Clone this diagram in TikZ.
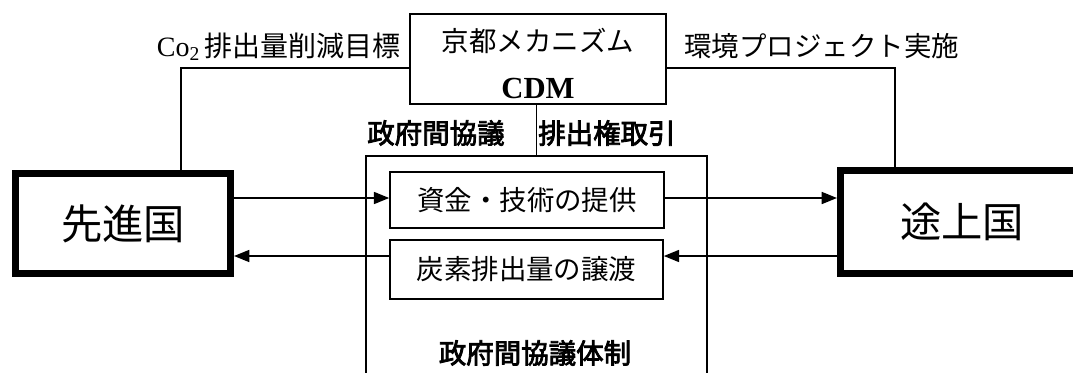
\documentclass[tikz,border=0pt]{standalone}
\usepackage{fontspec}
\setmainfont{Liberation Serif}
\newfontfamily\jp{Noto Sans CJK JP}
\newfontfamily\jpb[FakeBold=3]{Noto Sans CJK JP}
\usetikzlibrary{arrows.meta}
\tikzset{
  thinbox/.style={draw, line width=1.2pt, inner sep=0pt, fill=white},
  country/.style={draw, line width=5.25pt, inner sep=0pt, fill=white,
    font=\jp\fontsize{31pt}{36pt}\selectfont},
  lbl/.style={inner sep=0pt, font=\jp\fontsize{20.6pt}{24pt}\selectfont},
  blbl/.style={inner sep=0pt, font=\jpb\fontsize{20.6pt}{24pt}\selectfont},
  conn/.style={line width=1.3pt},
  arr/.style={line width=1.3pt, -{Triangle[length=11.5pt,width=9pt]}}
}
\begin{document}
\begin{tikzpicture}[x=0.75pt,y=-0.75pt]
\useasboundingbox (0,0) rectangle (1073,372);
\clip (0,0) rectangle (1073,372);
\fill[white] (0,0) rectangle (1073,372);

% helper coordinates
\coordinate (ya) at (0,198);
\coordinate (yb) at (0,256);
\coordinate (yc) at (0,68);
\coordinate (lx) at (181,0);
\coordinate (rx) at (895,0);

% outer framework box
\node[thinbox, minimum width=255.75pt, minimum height=198pt] (frame) at (536.5,288) {};
\node[blbl] (taisei) at (535,353) {政府間協議体制};

% inner boxes
\node[thinbox, minimum width=205.5pt, minimum height=42pt, lbl] (box1) at (527,200) {資金・技術の提供};
\node[thinbox, minimum width=204.75pt, minimum height=44.25pt, lbl] (box2) at (526.5,269.5) {炭素排出量の譲渡};

% countries
\node[country, minimum width=161.25pt, minimum height=75pt] (sen) at (123,223.5) {先進国};
\node[country, minimum width=182.25pt, minimum height=77.25pt] (to) at (962,222) {途上国};

% CDM box
\node[thinbox, minimum width=192pt, minimum height=67.5pt] (cdm) at (538,59) {};
\node[lbl] (kyoto) at (538,41) {京都メカニズム};
\node[inner sep=0pt, font=\bfseries\fontsize{23pt}{26pt}\selectfont] (cdmt) at (538,88) {CDM};

% labels
\node[lbl, anchor=east] (co2) at (401,47) {\fontsize{21pt}{24pt}\selectfont\rmfamily Co$_{\mathrm{2}}$\,\jp 排出量削減目標};
\node[lbl, anchor=west] (kankyo) at (684,46) {環境プロジェクト実施};
\node[blbl, anchor=west] (seifu) at (367,133) {政府間協議};
\node[blbl, anchor=west] (haishutsu) at (538,133) {排出権取引};

% connectors
\draw[conn] (cdm.west |- yc) -| (sen.north -| lx);
\draw[conn] (cdm.east |- yc) -| (to.north -| rx);
\draw[conn] (cdm.south -| frame.north) -- (frame.north);

% arrows
\draw[arr] (sen.east |- ya) -- (box1.west |- ya);
\draw[arr] (box1.east |- ya) -- (to.west |- ya);
\draw[arr] (to.west |- yb) -- (box2.east |- yb);
\draw[arr] (box2.west |- yb) -- (sen.east |- yb);
\end{tikzpicture}
\end{document}
